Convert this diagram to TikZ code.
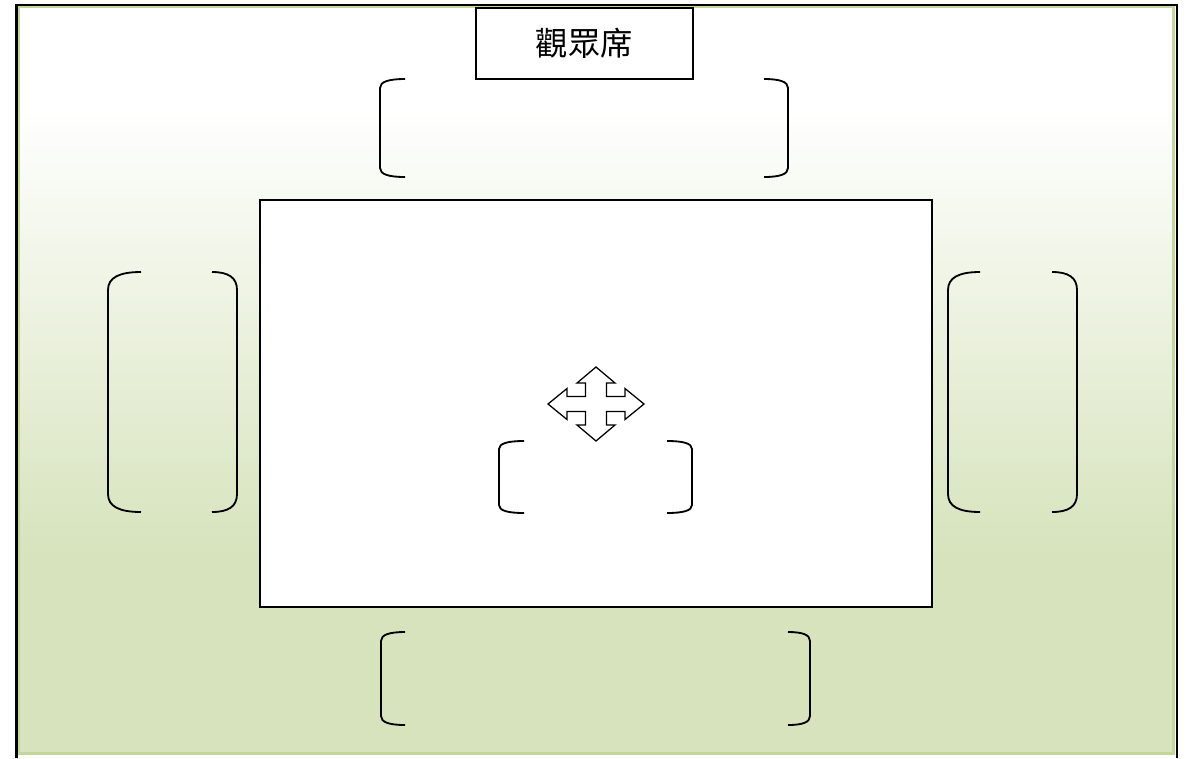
\documentclass[tikz,border=0pt]{standalone}
\usepackage{fontspec}
\newfontfamily\cjk{Noto Sans CJK TC}
\usetikzlibrary{positioning}
\definecolor{pale}{RGB}{214,227,188}
\definecolor{rim}{RGB}{195,214,155}
\newcommand{\brw}{1.3pt}
% left / right bracket: x, top, bottom, tip, bend
\newcommand{\lbrk}[5]{\draw[line width=\brw] ({#1+#4},#2) .. controls ({#1+0.35*#4},#2) and (#1,{#2+0.3*#5}) .. (#1,{#2+#5}) -- (#1,{#3-#5}) .. controls (#1,{#3-0.3*#5}) and ({#1+0.35*#4},#3) .. ({#1+#4},#3);}
\newcommand{\rbrk}[5]{\draw[line width=\brw] ({#1-#4},#2) .. controls ({#1-0.35*#4},#2) and (#1,{#2+0.3*#5}) .. (#1,{#2+#5}) -- (#1,{#3-#5}) .. controls (#1,{#3-0.3*#5}) and ({#1-0.35*#4},#3) .. ({#1-#4},#3);}
\begin{document}
\begin{tikzpicture}[x=0.025cm, y=-0.025cm]
            \useasboundingbox (0,0) rectangle (1189,758);
            \tikzset{box/.style = {draw, fill=white, line width=0.9pt}}
            \fill[white!99!pale] (19,7) rectangle (1173.5,110);
            \shade[top color=white!99!pale, bottom color=pale] (19,110) rectangle (1173.5,560);
            \fill[pale] (19,559.5) rectangle (1173.5,753.5);
            \draw[rim, line width=1.8pt] (19,7) rectangle (1173.5,753.5);
            \draw[line width=2.1pt] (16.5,758) -- (16.5,5) -- (1177,5) -- (1177,758);

            \node[box, minimum width=217*0.025cm, minimum height=71*0.025cm, inner sep=0pt]
                (hd) at (584.5,43.5) {\cjk\fontsize{23}{23}\selectfont 觀眾席};
            \draw[box] (260,200) rectangle (932,607);

            % top
            \lbrk{380}{79}{177}{25}{9}
            \rbrk{788}{79}{177}{24}{9}
            % left
            \lbrk{108}{272}{512}{33}{18}
            \rbrk{237}{272}{512}{25}{18}
            % right
            \lbrk{948}{272}{512}{32}{18}
            \rbrk{1077}{272}{512}{25}{18}
            % middle
            \lbrk{499}{441}{513}{25}{8}
            \rbrk{692}{441}{513}{25}{8}
            % bottom
            \lbrk{381}{632}{725}{24}{9}
            \rbrk{810}{632}{725}{22}{9}

            \begin{scope}[shift={(596,404)}]
                \draw[line width=0.9pt, fill=white] (0,-37) -- (19,-21) -- (10.5,-21) -- (10.5,-7.5) -- (29,-7.5) -- (29,-15.5)
                    -- (48,0) -- (29,15.5) -- (29,7.5) -- (10.5,7.5) -- (10.5,21) -- (19,21) -- (0,37)
                    -- (-19,21) -- (-10.5,21) -- (-10.5,7.5) -- (-29,7.5) -- (-29,15.5) -- (-48,0)
                    -- (-29,-15.5) -- (-29,-7.5) -- (-10.5,-7.5) -- (-10.5,-21) -- (-19,-21) -- cycle;
            \end{scope}
        \end{tikzpicture}
\end{document}
